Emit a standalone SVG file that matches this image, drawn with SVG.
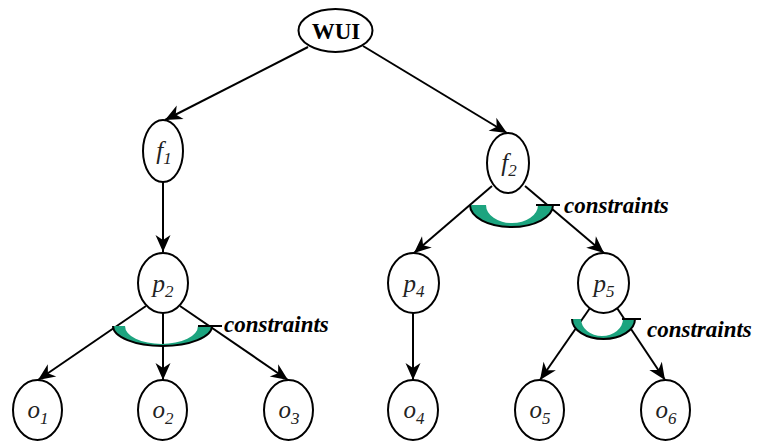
<svg xmlns="http://www.w3.org/2000/svg" width="757" height="441" viewBox="0 0 757 441">
<style>
.node{fill:#fff;stroke:#000;stroke-width:2}
.lbl{font-family:'Liberation Serif','DejaVu Serif',serif;font-style:italic;font-size:25px;fill:#222;text-anchor:middle}
.sub{font-size:17px}
.root{font-family:'Liberation Serif','DejaVu Serif',serif;font-weight:bold;font-size:23px;fill:#000;text-anchor:middle}
.edge{stroke:#000;stroke-width:2;fill:none;marker-end:url(#ah)}
.plain{stroke:#000;stroke-width:2;fill:none}
.cres{fill:#1ca47f;stroke:none}
.cresline{fill:none;stroke:#000;stroke-width:2}
.ctext{font-family:'Liberation Serif','DejaVu Serif',serif;font-style:italic;font-weight:bold;font-size:23px;fill:#000}
</style>
<defs>
<marker id="ah" markerUnits="userSpaceOnUse" markerWidth="20" markerHeight="20" viewBox="-18 -9 20 18" refX="0" refY="0" orient="auto">
<path d="M0,0 L-17,-7.5 L-12,0 L-17,7.5 Z" fill="#000"/>
</marker>
</defs>
<g id="connectors">
<line class="edge" x1="308" y1="47" x2="165" y2="120"/>
<line class="edge" x1="363" y1="46" x2="507" y2="133"/>
<line class="edge" x1="163" y1="182" x2="163" y2="252"/>
<line class="edge" x1="492" y1="186" x2="414" y2="253"/>
<line class="edge" x1="525" y1="186" x2="604" y2="253"/>
<line class="edge" x1="146" y1="306" x2="38" y2="380"/>
<line class="edge" x1="163" y1="313" x2="163" y2="380"/>
<line class="edge" x1="180" y1="306" x2="288" y2="380"/>
<line class="edge" x1="413" y1="313" x2="413" y2="380"/>
<line class="edge" x1="590" y1="308" x2="540" y2="380"/>
<line class="edge" x1="617" y1="308" x2="665" y2="380"/>
</g>
<g id="constraint-p2">
<path class="cres" d="M113,326 A49.5,20 0 0 0 212,326 L198,326 A36.5,18 0 0 1 125,326 Z"/>
<path class="cresline" d="M113,326 A49.5,20 0 0 0 212,326"/>
<line class="plain" x1="198" y1="326" x2="222" y2="326"/>
<text class="ctext" x="224" y="332" font-family="Liberation Serif">constraints</text>
</g>
<g id="constraint-f2">
<path class="cres" d="M470,205 A41.5,22 0 0 0 553,205 L538,205 A26,18 0 0 1 486,205 Z"/>
<path class="cresline" d="M470,205 A41.5,22 0 0 0 553,205"/>
<line class="plain" x1="536" y1="205" x2="560" y2="205"/>
<text class="ctext" x="564" y="213" font-family="Liberation Serif">constraints</text>
</g>
<g id="constraint-p5">
<path class="cres" d="M572,319 A31.5,20 0 0 0 635,319 L623,319 A21,17 0 0 1 581,319 Z"/>
<path class="cresline" d="M572,319 A31.5,20 0 0 0 635,319"/>
<line class="plain" x1="622" y1="319" x2="641" y2="319"/>
<text class="ctext" x="647" y="337" font-family="Liberation Serif">constraints</text>
</g>
<g id="WUI">
<ellipse class="node" cx="335.5" cy="30.5" rx="37" ry="21.5"/>
<text class="root" x="336" y="38.5">WUI</text>
</g>
<g id="f1">
<ellipse class="node" cx="163" cy="151" rx="20" ry="31"/>
<text class="lbl" x="164" y="159">f<tspan class="sub" dy="5">1</tspan></text>
</g>
<g id="f2">
<ellipse class="node" cx="508" cy="163" rx="21" ry="30"/>
<text class="lbl" x="509" y="171">f<tspan class="sub" dy="5">2</tspan></text>
</g>
<g id="p2">
<ellipse class="node" cx="163" cy="283" rx="25" ry="30"/>
<text class="lbl" x="163" y="292">p<tspan class="sub" dy="5">2</tspan></text>
</g>
<g id="p4">
<ellipse class="node" cx="413.5" cy="283" rx="25.5" ry="30"/>
<text class="lbl" x="414" y="292">p<tspan class="sub" dy="5">4</tspan></text>
</g>
<g id="p5">
<ellipse class="node" cx="603.5" cy="283" rx="25.5" ry="30"/>
<text class="lbl" x="604" y="292">p<tspan class="sub" dy="5">5</tspan></text>
</g>
<g id="o1">
<ellipse class="node" cx="37.5" cy="410" rx="24.5" ry="30"/>
<text class="lbl" x="38" y="418">o<tspan class="sub" dy="6">1</tspan></text>
</g>
<g id="o2">
<ellipse class="node" cx="162.5" cy="410" rx="24.5" ry="30"/>
<text class="lbl" x="163" y="418">o<tspan class="sub" dy="6">2</tspan></text>
</g>
<g id="o3">
<ellipse class="node" cx="288.5" cy="410" rx="24.5" ry="30"/>
<text class="lbl" x="289" y="418">o<tspan class="sub" dy="6">3</tspan></text>
</g>
<g id="o4">
<ellipse class="node" cx="413" cy="410" rx="25" ry="30"/>
<text class="lbl" x="414" y="418">o<tspan class="sub" dy="6">4</tspan></text>
</g>
<g id="o5">
<ellipse class="node" cx="539.5" cy="410" rx="24.5" ry="30"/>
<text class="lbl" x="540" y="418">o<tspan class="sub" dy="6">5</tspan></text>
</g>
<g id="o6">
<ellipse class="node" cx="665.5" cy="410" rx="24.5" ry="30"/>
<text class="lbl" x="666" y="418">o<tspan class="sub" dy="6">6</tspan></text>
</g>
</svg>
